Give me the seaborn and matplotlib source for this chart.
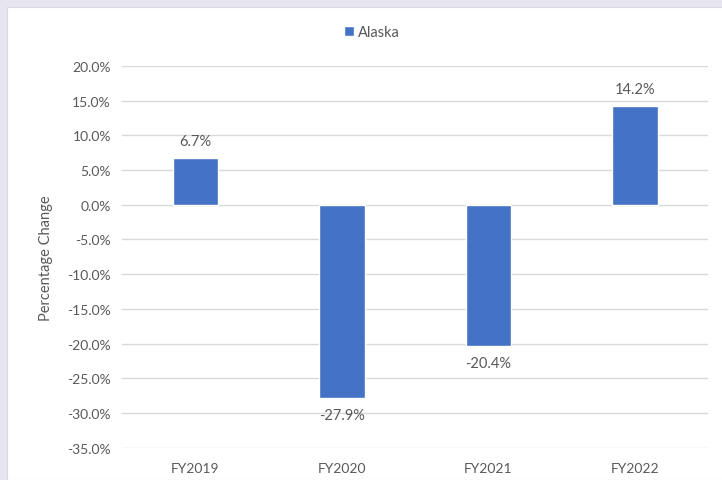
import seaborn as sns
import matplotlib.pyplot as plt
import pandas as pd
from matplotlib.patches import Rectangle
from matplotlib.ticker import FuncFormatter

years = ['FY2019', 'FY2020', 'FY2021', 'FY2022']
alaska = [6.7, -27.9, -20.4, 14.2]
yticks = [-35, -30, -25, -20, -15, -10, -5, 0, 5, 10, 15, 20]

df = pd.DataFrame({'year': years, 'change': alaska, 'region': 'Alaska'})

sns.set_theme(style='white')
plt.rcParams['font.family'] = ['Lato', 'DejaVu Sans']

text_color = '#595959'
bar_color = '#4472C4'

fig = plt.figure(figsize=(7.22, 4.81), dpi=100, facecolor='#e7e6ef')
# white chart area inside the thin frame
fig.patches.append(Rectangle((7 / 722, 0), 1, 1 - 8 / 481, transform=fig.transFigure,
                             facecolor='white', edgecolor='#d8d8e0', linewidth=0.8, zorder=-10))
ax = fig.add_axes([0.169, 0.067, 0.812, 0.794])
ax.set_facecolor('none')

sns.barplot(data=df, x='year', y='change', hue='region', palette=[bar_color],
            width=0.31, ax=ax, saturation=1, zorder=3)

for c in ax.containers:
    ax.bar_label(c, labels=[f'{v:.1f}%' for v in alaska], padding=7,
                 fontsize=10.5, color=text_color)

ax.set_ylim(-35, 20)
ax.set_yticks(yticks)
ax.yaxis.set_major_formatter(FuncFormatter(lambda v, p: f'{v:.1f}%'))
ax.grid(axis='y', color='#d9d9d9', linewidth=1, zorder=0)
ax.set_axisbelow(True)
for s in ax.spines.values():
    s.set_visible(False)
ax.tick_params(axis='both', length=0, labelsize=10, labelcolor=text_color, pad=8)
ax.tick_params(axis='x', pad=10)
ax.set_xlabel('')
ax.set_ylabel('Percentage Change', fontsize=10.5, color=text_color, labelpad=10)

leg = ax.legend(loc='center', bbox_to_anchor=(372 / 722, 1 - 33 / 481),
                bbox_transform=fig.transFigure, frameon=False, fontsize=10.5,
                handlelength=0.7, handleheight=0.7, handletextpad=0.3)
for t in leg.get_texts():
    t.set_color(text_color)

fig.savefig('out.png', dpi=100)
